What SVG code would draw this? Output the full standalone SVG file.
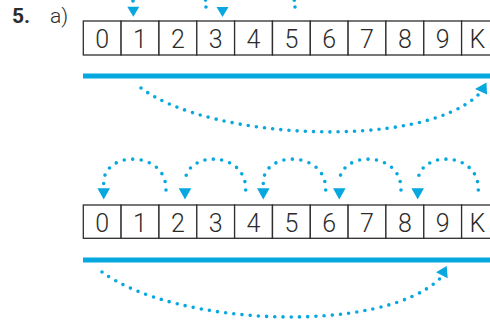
<svg xmlns="http://www.w3.org/2000/svg" width="490" height="323" viewBox="0 0 490 323">
<style>
.cell rect{fill:#fff;stroke:#2e2e2e;stroke-width:1.3}
.cell text{font-family:Roboto,"Liberation Sans",sans-serif;font-weight:300;font-size:25px;fill:#2b2b2b;text-anchor:middle}
.dots{fill:none;stroke:#07a7df;stroke-width:3.6;stroke-linecap:round;stroke-dasharray:0 1}
.head{fill:#07a7df}
.bar{fill:#07a7df}
.lbl{font-family:Roboto,"Liberation Sans",sans-serif;font-size:21px;fill:#2b2b2b}
</style>
<text class="lbl" x="12" y="23" font-weight="700">5.</text>
<text class="lbl" x="50" y="23" font-weight="300">a)</text>

<g id="row1">
<g id="r1c0" class="cell"><rect x="83.3" y="21" width="37.8" height="34"/><text x="102.2" y="47.5">0</text></g>
<g id="r1c1" class="cell"><rect x="121.1" y="21" width="37.8" height="34"/><text x="140" y="47.5">1</text></g>
<g id="r1c2" class="cell"><rect x="159" y="21" width="37.8" height="34"/><text x="177.9" y="47.5">2</text></g>
<g id="r1c3" class="cell"><rect x="196.8" y="21" width="37.8" height="34"/><text x="215.7" y="47.5">3</text></g>
<g id="r1c4" class="cell"><rect x="234.6" y="21" width="37.8" height="34"/><text x="253.5" y="47.5">4</text></g>
<g id="r1c5" class="cell"><rect x="272.5" y="21" width="37.8" height="34"/><text x="291.4" y="47.5">5</text></g>
<g id="r1c6" class="cell"><rect x="310.3" y="21" width="37.8" height="34"/><text x="329.2" y="47.5">6</text></g>
<g id="r1c7" class="cell"><rect x="348.1" y="21" width="37.8" height="34"/><text x="367" y="47.5">7</text></g>
<g id="r1c8" class="cell"><rect x="385.9" y="21" width="37.8" height="34"/><text x="404.9" y="47.5">8</text></g>
<g id="r1c9" class="cell"><rect x="423.8" y="21" width="37.8" height="34"/><text x="442.7" y="47.5">9</text></g>
<g id="r1cK" class="cell"><rect x="461.6" y="21" width="37.8" height="34"/><text x="477.5" y="47.5">K</text></g>
</g>
<rect class="bar" x="83" y="73.5" width="410" height="5"/>

<g id="row2">
<g id="r2c0" class="cell"><rect x="83.3" y="205" width="37.8" height="33.3"/><text x="102.2" y="231.5">0</text></g>
<g id="r2c1" class="cell"><rect x="121.1" y="205" width="37.8" height="33.3"/><text x="140" y="231.5">1</text></g>
<g id="r2c2" class="cell"><rect x="159" y="205" width="37.8" height="33.3"/><text x="177.9" y="231.5">2</text></g>
<g id="r2c3" class="cell"><rect x="196.8" y="205" width="37.8" height="33.3"/><text x="215.7" y="231.5">3</text></g>
<g id="r2c4" class="cell"><rect x="234.6" y="205" width="37.8" height="33.3"/><text x="253.5" y="231.5">4</text></g>
<g id="r2c5" class="cell"><rect x="272.5" y="205" width="37.8" height="33.3"/><text x="291.4" y="231.5">5</text></g>
<g id="r2c6" class="cell"><rect x="310.3" y="205" width="37.8" height="33.3"/><text x="329.2" y="231.5">6</text></g>
<g id="r2c7" class="cell"><rect x="348.1" y="205" width="37.8" height="33.3"/><text x="367" y="231.5">7</text></g>
<g id="r2c8" class="cell"><rect x="385.9" y="205" width="37.8" height="33.3"/><text x="404.9" y="231.5">8</text></g>
<g id="r2c9" class="cell"><rect x="423.8" y="205" width="37.8" height="33.3"/><text x="442.7" y="231.5">9</text></g>
<g id="r2cK" class="cell"><rect x="461.6" y="205" width="37.8" height="33.3"/><text x="477.5" y="231.5">K</text></g>
</g>
<rect class="bar" x="83" y="257.5" width="410" height="5"/>

<g id="connectors">
<path class="dots" pathLength="17" d="M206,7 C206,-45 133,-45 133,1"/>
<polygon class="head" points="127.3,6.7 139.3,6.7 133.3,16.7"/>
<path class="dots" pathLength="17" d="M295,7 C293,-45 222,-45 222,1"/>
<polygon class="head" points="216.5,7 228.5,7 222.5,17"/>

<path class="dots" pathLength="43" d="M141,88 C210,140 420,150 478,95"/>
<polygon class="head" points="486.5,82.5 475,89 487,94.5"/>

<path class="dots" pathLength="11" d="M166,190 C167,150 102.7,150 103.7,183.5"/>
<polygon class="head" points="97.4,188.3 110,188.3 103.7,199.5"/>
<path class="dots" pathLength="11" d="M245.7,190 C246.7,150 184,150 185,183.5"/>
<polygon class="head" points="178.7,188.3 191.3,188.3 185,199.5"/>
<path class="dots" pathLength="11" d="M325.7,190 C326.7,150 262.3,150 263.3,183.5"/>
<polygon class="head" points="257,188.3 269.6,188.3 263.3,199.5"/>
<path class="dots" pathLength="11" d="M401,190 C402,150 338.3,150 339.3,183.5"/>
<polygon class="head" points="333,188.3 345.6,188.3 339.3,199.5"/>
<path class="dots" pathLength="11" d="M478.3,190 C479.3,150 416.7,150 417.7,183.5"/>
<polygon class="head" points="411.4,188.3 424,188.3 417.7,199.5"/>

<path class="dots" pathLength="43" d="M102,272 C175,326 380,335 439.5,279"/>
<polygon class="head" points="446.7,266 436,272.3 447.7,278.3"/>
</g>
</svg>
